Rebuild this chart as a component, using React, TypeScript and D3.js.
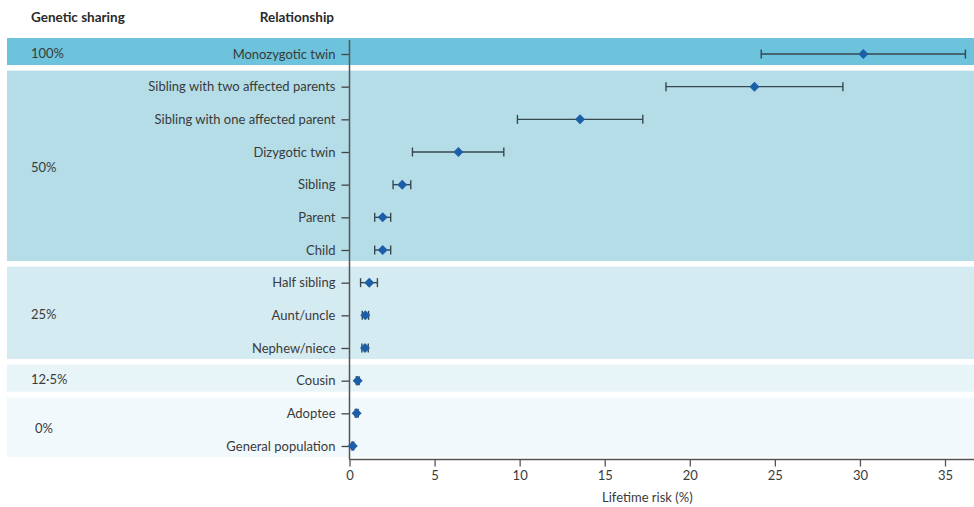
import { useEffect, useRef } from "react";
import * as d3 from "d3";

const relationships = [
  "Monozygotic twin",
  "Sibling with two affected parents",
  "Sibling with one affected parent",
  "Dizygotic twin",
  "Sibling",
  "Parent",
  "Child",
  "Half sibling",
  "Aunt/uncle",
  "Nephew/niece",
  "Cousin",
  "Adoptee",
  "General population",
];
const risk = [30.2, 23.8, 13.55, 6.4, 3.1, 1.95, 1.95, 1.16, 0.93, 0.91, 0.48, 0.42, 0.19];
const lower = [24.2, 18.6, 9.87, 3.7, 2.56, 1.48, 1.48, 0.65, 0.75, 0.73, 0.4, 0.34, 0.14];
const upper = [36.2, 29.0, 17.24, 9.07, 3.6, 2.42, 2.42, 1.64, 1.12, 1.1, 0.57, 0.51, 0.25];

const groups = ["100%", "50%", "25%", "12·5%", "0%"];
const groupStart = [0, 1, 7, 10, 11];
const groupEnd = [0, 6, 9, 10, 12];
const groupColors = ["#6cc3db", "#b4dde8", "#d5ebf2", "#e7f4f8", "#f2f9fc"];

const xTicks = [0, 5, 10, 15, 20, 25, 30, 35];

const W = 974;
const H = 507;
const FONT = "Lato, 'Open Sans', sans-serif";

export default function App() {
  const ref = useRef<SVGSVGElement>(null);

  useEffect(() => {
    document.body.style.margin = "0";
    const svg = d3.select(ref.current!);
    svg.selectAll("*").remove();

    const x = d3.scaleLinear().domain([0, 35]).range([349.5, 945]);
    const y = d3.scalePoint().domain(relationships).range([54, 446]);
    const bottom = 459.5;
    const textColor = "#3a3a3a";

    // group bands
    const bands = svg.append("g");
    groups.forEach((g, i) => {
      const top = y(relationships[groupStart[i]])! - 16;
      const bot = y(relationships[groupEnd[i]])! + 11;
      bands
        .append("rect")
        .attr("x", 7)
        .attr("y", top)
        .attr("width", W - 7)
        .attr("height", bot - top)
        .attr("fill", groupColors[i]);
      bands
        .append("text")
        .attr("x", g === "0%" ? 35 : 31)
        .attr("y", (top + bot) / 2 + 6)
        .attr("font-family", FONT)
        .attr("font-size", 13)
        .attr("fill", textColor)
        .text(g);
    });

    // headers
    [["Genetic sharing", 31, "start"], ["Relationship", 334, "end"]].forEach(([t, hx, anchor]) => {
      svg
        .append("text")
        .attr("x", hx as number)
        .attr("y", 22)
        .attr("text-anchor", anchor as string)
        .attr("font-family", FONT)
        .attr("font-weight", "bold")
        .attr("font-size", 13.5)
        .attr("fill", "#2a2a2a")
        .text(t as string);
    });

    // left axis
    const yAxis = svg
      .append("g")
      .attr("transform", `translate(${x(0)},0)`)
      .call(d3.axisLeft(y).tickSize(8).tickPadding(6).tickSizeOuter(0));
    yAxis.select(".domain").remove();
    yAxis.selectAll("line").attr("stroke", "#444").attr("stroke-width", 1.3);
    yAxis
      .selectAll("text")
      .attr("font-family", FONT)
      .attr("font-size", 13)
      .attr("fill", textColor);
    svg
      .append("line")
      .attr("x1", x(0))
      .attr("x2", x(0))
      .attr("y1", 40)
      .attr("y2", bottom)
      .attr("stroke", "#555")
      .attr("stroke-width", 1.5);

    // bottom axis
    const xAxis = svg
      .append("g")
      .attr("transform", `translate(0,${bottom})`)
      .call(
        d3
          .axisBottom(x)
          .tickValues(xTicks)
          .tickFormat(d3.format("d"))
          .tickSize(7)
          .tickPadding(4)
          .tickSizeOuter(0)
      );
    xAxis.select(".domain").attr("d", `M${x(0)},0H${W}`).attr("stroke", "#555").attr("stroke-width", 1.3);
    xAxis.selectAll("line").attr("stroke", "#555").attr("stroke-width", 1.3);
    xAxis
      .selectAll("text")
      .attr("font-family", FONT)
      .attr("font-size", 13)
      .attr("fill", textColor);
    svg
      .append("text")
      .attr("x", 602)
      .attr("y", 502)
      .attr("font-family", FONT)
      .attr("font-size", 13)
      .attr("fill", textColor)
      .text("Lifetime risk (%)");

    // error bars
    const bars = svg.append("g").attr("stroke", "#37474f").attr("stroke-width", 1.4);
    relationships.forEach((r, i) => {
      const cy = y(r)!;
      bars.append("line").attr("x1", x(lower[i])).attr("x2", x(upper[i])).attr("y1", cy).attr("y2", cy);
      [lower[i], upper[i]].forEach((v) => {
        bars.append("line").attr("x1", x(v)).attr("x2", x(v)).attr("y1", cy - 4.5).attr("y2", cy + 4.5);
      });
    });

    // markers
    const sym = d3.symbol().type(d3.symbolDiamond2).size(64);
    svg
      .append("g")
      .selectAll("path")
      .data(relationships)
      .join("path")
      .attr("transform", (d, i) => `translate(${x(risk[i])},${y(d)})`)
      .attr("d", sym()!)
      .attr("fill", "#1d5ea8");
  }, []);

  return <svg ref={ref} width={W} height={H} style={{ display: "block", background: "#fff" }} />;
}
